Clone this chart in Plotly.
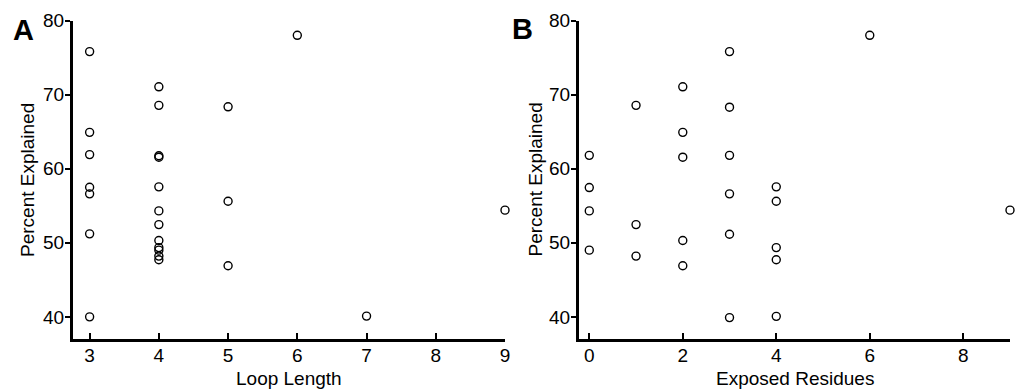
import plotly.graph_objects as go

# Panel A: Loop Length vs Percent Explained
loop_length = [3, 3, 3, 3, 3, 3, 3,
               4, 4, 4, 4, 4, 4, 4, 4, 4, 4, 4, 4,
               5, 5, 5, 6, 7, 9]
pct_a = [75.8, 64.9, 61.9, 57.5, 56.6, 51.2, 40.0,
         71.05, 68.55, 61.75, 61.55, 57.55, 54.3, 52.45, 50.3, 49.35, 49.0, 48.2, 47.7,
         68.35, 55.6, 46.9, 78.0, 40.1, 54.4]

# Panel B: Exposed Residues vs Percent Explained
exposed = [0, 0, 0, 0,
           1, 1, 1,
           2, 2, 2, 2, 2,
           3, 3, 3, 3, 3, 3,
           4, 4, 4, 4, 4,
           6, 9]
pct_b = [61.8, 57.45, 54.3, 49.0,
         68.55, 52.45, 48.2,
         71.05, 64.9, 61.55, 50.3, 46.9,
         75.8, 68.3, 61.8, 56.6, 51.15, 39.9,
         57.55, 55.6, 49.35, 47.7, 40.07,
         78.0, 54.4]

x_ticks_a = [3, 4, 5, 6, 7, 8, 9]
x_ticks_b = [0, 2, 4, 6, 8]
y_ticks = [40, 50, 60, 70, 80]

W, H = 1024, 392
FONT = "Liberation Sans, Arial, Helvetica, sans-serif"

fig = go.Figure()
marker = dict(symbol="circle-open", size=8, color="black", line=dict(width=1.4, color="black"))
fig.add_trace(go.Scatter(x=loop_length, y=pct_a, mode="markers", marker=marker,
                         xaxis="x", yaxis="y", showlegend=False, cliponaxis=False))
fig.add_trace(go.Scatter(x=exposed, y=pct_b, mode="markers", marker=marker,
                         xaxis="x2", yaxis="y2", showlegend=False, cliponaxis=False))

ydom = [1 - 339.3 / H, 1 - 20.5 / H]
common_x = dict(showline=True, linecolor="black", linewidth=3, ticks="inside", ticklen=6,
                tickwidth=2, tickcolor="black", showgrid=False, zeroline=False,
                tickfont=dict(family=FONT, size=19, color="black"), automargin=False,
                ticklabelstandoff=-3)
common_y = dict(showline=True, linecolor="black", linewidth=3, ticks="outside", ticklen=5,
                tickwidth=2, tickcolor="black", showgrid=False, zeroline=False,
                tickfont=dict(family=FONT, size=19, color="black"), automargin=False,
                range=[36.97, 80], tickvals=y_ticks, domain=ydom, ticklabelstandoff=-3)

fig.update_layout(
    width=W, height=H,
    margin=dict(l=0, r=0, t=0, b=0),
    paper_bgcolor="white", plot_bgcolor="white",
    xaxis=dict(common_x, domain=[73 / W, 505 / W], range=[2.76, 9], tickvals=x_ticks_a,
               anchor="y"),
    yaxis=dict(common_y, anchor="x"),
    xaxis2=dict(common_x, domain=[579 / W, 1010 / W], range=[-0.22, 9], tickvals=x_ticks_b,
                anchor="y2"),
    yaxis2=dict(common_y, anchor="x2"),
    font=dict(family=FONT, color="black"),
)

ann = []
def add_text(text, x, y, size, bold=False, angle=0):
    ann.append(dict(text=("<b>%s</b>" % text) if bold else text, x=x / W, y=1 - y / H,
                    xref="paper", yref="paper", xanchor="center", yanchor="middle",
                    showarrow=False, textangle=angle,
                    font=dict(family=FONT, size=size, color="black")))

add_text("A", 23, 30.5, 29, bold=True)
add_text("B", 522.7, 29.5, 29, bold=True)
add_text("Loop Length", 289, 378, 19)
add_text("Exposed Residues", 794.5, 378, 19)
add_text("Percent Explained", 28, 180, 19, angle=-90)
add_text("Percent Explained", 535.5, 180, 19, angle=-90)
fig.update_layout(annotations=ann)

fig.write_html("out.html", config={"displayModeBar": False},
               post_script="document.body.style.margin='0px';document.body.style.overflow='hidden';")
